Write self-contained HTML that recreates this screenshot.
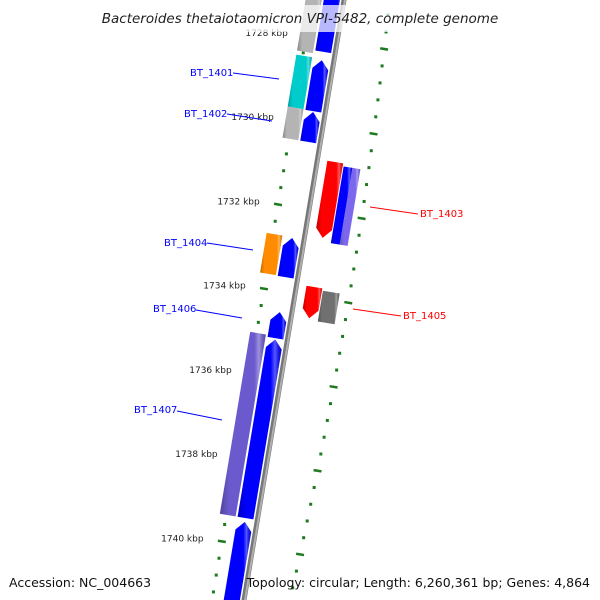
<!DOCTYPE html>
<html><head><meta charset="utf-8"><style>
html,body{margin:0;padding:0;background:#fff;overflow:hidden;width:600px;height:600px;}
svg{display:block;font-family:"DejaVu Sans","Liberation Sans",sans-serif;}
</style></head><body>
<svg id="map" width="600" height="600" viewBox="0 0 600 600" xmlns="http://www.w3.org/2000/svg">
<defs>
<linearGradient id="shade" x1="0" x2="1" y1="0" y2="0">
<stop offset="0" stop-color="#000" stop-opacity="0.25"/>
<stop offset="0.2" stop-color="#000" stop-opacity="0"/>
<stop offset="0.75" stop-color="#fff" stop-opacity="0"/>
<stop offset="0.85" stop-color="#fff" stop-opacity="0.35"/>
<stop offset="1" stop-color="#000" stop-opacity="0.1"/>
</linearGradient>
</defs>
<g id="layer"></g>
<rect x="97" y="5" width="406" height="27" fill="#fff" fill-opacity="0.72"/>
<text x="300" y="23" text-anchor="middle" font-size="13.5" font-style="italic" fill="#222">Bacteroides thetaiotaomicron VPI-5482, complete genome</text>
<g font-size="10">
<line x1="233" y1="73" x2="279" y2="79" stroke="#0000ff"/>
<text x="190" y="76" fill="#0000ff">BT_1401</text>
<line x1="227" y1="114" x2="272" y2="121" stroke="#0000ff"/>
<text x="184" y="117" fill="#0000ff">BT_1402</text>
<line x1="370" y1="207" x2="418" y2="214" stroke="#ff0000"/>
<text x="420" y="217" fill="#ff0000">BT_1403</text>
<line x1="207" y1="243" x2="253" y2="250" stroke="#0000ff"/>
<text x="164" y="246" fill="#0000ff">BT_1404</text>
<line x1="353" y1="309" x2="401" y2="316" stroke="#ff0000"/>
<text x="403" y="319" fill="#ff0000">BT_1405</text>
<line x1="196" y1="310" x2="242" y2="318" stroke="#0000ff"/>
<text x="153" y="312" fill="#0000ff">BT_1406</text>
<line x1="177" y1="411" x2="222" y2="420" stroke="#0000ff"/>
<text x="134" y="413" fill="#0000ff">BT_1407</text>
</g>
<text x="9" y="587" font-size="12.5" fill="#111">Accession: NC_004663</text>
<text x="590" y="587" text-anchor="end" font-size="12.5" fill="#111">Topology: circular; Length: 6,260,361 bp; Genes: 4,864</text>
</svg>
<script>
// ---- data ----
const featStart = [1726.3,1728.50,1729.73,1732.72,1734.48,1735.13,1739.46, 1726.9,1728.47,1729.70,1732.70,1735.05, 1730.80,1733.77, 1730.87,1730.87,1733.82];
const featEnd   = [1728.30,1729.71,1730.44,1733.65,1735.10,1739.37,1741.9, 1728.37,1729.70,1730.44,1733.64,1739.37, 1732.60,1734.51, 1732.69,1732.69,1734.55];
const featLane  = ['A','A','A','A','A','A','A','B','B','B','B','B','C','C','D1','D2','D'];
const featColor = ['#0000ff','#0000ff','#0000ff','#0000ff','#0000ff','#0000ff','#0000ff','#b4b4b4','#00cccc','#b4b4b4','#ff8c00','#6a5acd','#ff0000','#ff0000','#0000ff','#7b68ee','#707070'];
const featArrow = ['none','up','up','up','up','up','up','none','none','none','none','none','down','down','none','none','none'];
const tickKbp = [1728,1730,1732,1734,1736,1738,1740];
const tickLabels = ['1728 kbp','1730 kbp','1732 kbp','1734 kbp','1736 kbp','1738 kbp','1740 kbp'];

// ---- geometry ----
const NS='http://www.w3.org/2000/svg';
const layer=document.getElementById('layer');
const A=Math.atan(1/6), C=Math.cos(A), S=Math.sin(A);
const X0=344;
function uOf(k){return 41.7+(k-1728)*42.7;}
function pt(v,u){return [X0+v*C-u*S, v*S+u*C];}
function outerV(u){const t=(u-300)/270;return 47+7*(1-t*t);}
const lanes={A:[-20,-4],B:[-38,-22],C:[10,26],D:[27,44],D1:[27,36],D2:[36,44]};
function mk(tag,attrs){const e=document.createElementNS(NS,tag);for(const k in attrs)e.setAttribute(k,attrs[k]);layer.appendChild(e);return e;}
function poly(pts){return pts.map(p=>pt(p[0],p[1]).map(n=>n.toFixed(2)).join(',')).join(' ');}

let b1=pt(0,-60), b2=pt(0,700);
let bb=mk('line',{x1:b1[0],y1:b1[1],x2:b2[0],y2:b2[1],stroke:'#777','stroke-width':5});


let bl=mk('line',{x1:b1[0]+1,y1:b1[1],x2:b2[0]+1,y2:b2[1],stroke:'#b0b0b0','stroke-width':2});



for(let k=1726;k<=1742.01;k+=0.4){
  const kk=Math.round(k*10)/10;
  const major=Math.abs(kk/2-Math.round(kk/2))<0.01;
  const u=uOf(kk);
  [-31.5,outerV(u)].forEach(rv=>{
    let e;
    if(major){const p1=pt(rv-4,u),p2=pt(rv+4,u);
      e=mk('line',{x1:p1[0],y1:p1[1],x2:p2[0],y2:p2[1],stroke:'#1f7a1f','stroke-width':2.5});
      
    } else {const p=pt(rv,u);
      e=mk('rect',{x:p[0]-1.5,y:p[1]-1.5,width:3,height:3,fill:'#1f7a1f'});
      
    }
    
  });
}
tickKbp.forEach((k,i)=>{
  const p=pt(-50,uOf(k));
  const t=mk('text',{x:p[0],y:p[1]+3,'text-anchor':'end','font-size':9,fill:'#222'});
  t.textContent=tickLabels[i];
  
  
});

featStart.forEach((s,i)=>{
  const [v1,v2]=lanes[featLane[i]];
  let u1=uOf(s),u2=uOf(featEnd[i]);const h=9,mid=(v1+v2)/2;
  let pts;
  if(featArrow[i]==='up') pts=[[v1,u2],[v1,u1+h],[mid,u1],[v2,u1+h],[v2,u2]];
  else if(featArrow[i]==='down') pts=[[v1,u1],[v2,u1],[v2,u2-h],[mid,u2],[v1,u2-h]];
  else pts=[[v1,u1],[v2,u1],[v2,u2],[v1,u2]];
  const e=mk('polygon',{points:poly(pts),fill:featColor[i]});
  
  
  const g=mk('polygon',{points:poly(pts),fill:'url(#shade)'});
  
  
});
</script>
</body></html>
